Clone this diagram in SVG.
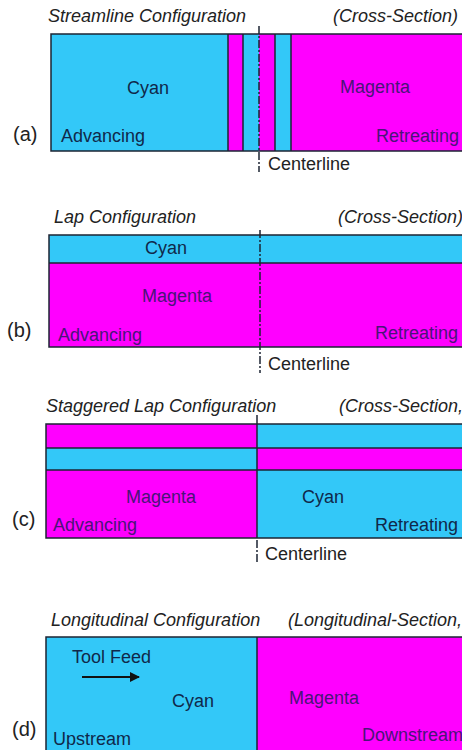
<svg xmlns="http://www.w3.org/2000/svg" width="462" height="750" viewBox="0 0 462 750">
<defs>
<style>
text{font-family:"Liberation Sans",Arial,sans-serif;font-size:18px}
.t{font-style:italic;fill:#222}
.k{fill:#222}
.lab{font-size:20px;fill:#222}
.oc{fill:#10284a}
.om{fill:#4a1478}
.c{fill:#33c8f8}
.m{fill:#ff00ff}
.b{fill:none;stroke:#1c2433;stroke-width:1.5}
.cl{fill:none;stroke:#1c2433;stroke-width:1.5;stroke-dasharray:8 2 2 2}
.sl{fill:none;stroke:#1c2433;stroke-width:1.5}
</style>
<marker id="ah" viewBox="0 0 10 10" refX="9" refY="5" markerWidth="10" markerHeight="10" markerUnits="userSpaceOnUse" orient="auto">
<path d="M0,0 L10,5 L0,10 z" fill="#111"/>
</marker>
</defs>

<g id="panel-a">
<text class="t" x="48" y="22">Streamline Configuration</text>
<text class="t" x="333" y="22">(Cross-Section)</text>
<rect class="c" x="51" y="34" width="177" height="117"/>
<rect class="m" x="228" y="34" width="15" height="117"/>
<rect class="c" x="243" y="34" width="16" height="117"/>
<rect class="m" x="259" y="34" width="16" height="117"/>
<rect class="c" x="275" y="34" width="16" height="117"/>
<rect class="m" x="291" y="34" width="180" height="117"/>
<path class="b" d="M471,34 H51 V151 H471 M228,34 V151 M243,34 V151 M275,34 V151 M291,34 V151"/>
<text class="oc" x="127" y="94">Cyan</text>
<text class="om" x="340" y="93">Magenta</text>
<text class="oc" x="61" y="142">Advancing</text>
<text class="om" x="376" y="142">Retreating</text>
<text class="lab" x="13" y="141">(a)</text>
<text class="k" x="268" y="170">Centerline</text>
</g>

<g id="panel-b">
<text class="t" x="54" y="223">Lap Configuration</text>
<text class="t" x="338" y="223">(Cross-Section)</text>
<rect class="c" x="49" y="235" width="422" height="28"/>
<rect class="m" x="49" y="263" width="422" height="84"/>
<path class="b" d="M471,235 H49 V347 H471 M49,263 H471"/>
<text class="oc" x="145" y="254">Cyan</text>
<text class="om" x="142" y="302">Magenta</text>
<text class="om" x="58" y="341">Advancing</text>
<text class="om" x="375" y="339">Retreating</text>
<text class="lab" x="7" y="337">(b)</text>
<text class="k" x="268" y="370">Centerline</text>
</g>

<g id="panel-c">
<text class="t" x="46" y="412">Staggered Lap Configuration</text>
<text class="t" x="339" y="412">(Cross-Section,</text>
<rect class="m" x="46" y="424" width="211" height="24"/>
<rect class="c" x="46" y="448" width="211" height="22"/>
<rect class="m" x="46" y="470" width="211" height="68"/>
<rect class="c" x="257" y="424" width="214" height="24"/>
<rect class="m" x="257" y="448" width="214" height="22"/>
<rect class="c" x="257" y="470" width="214" height="68"/>
<path class="b" d="M471,424 H46 V538 H471 M46,448 H471 M46,470 H471"/>
<text class="om" x="126" y="503">Magenta</text>
<text class="oc" x="302" y="503">Cyan</text>
<text class="om" x="53" y="531">Advancing</text>
<text class="oc" x="375" y="531">Retreating</text>
<text class="lab" x="12" y="526">(c)</text>
<text class="k" x="265" y="560">Centerline</text>
</g>

<g id="panel-d">
<text class="t" x="51" y="626">Longitudinal Configuration</text>
<text class="t" x="288" y="626">(Longitudinal-Section,</text>
<rect class="c" x="46" y="637" width="211" height="120"/>
<rect class="m" x="257" y="637" width="214" height="120"/>
<path class="b" d="M471,637 H46 V757 M257,637 V757"/>
<text class="oc" x="72" y="663">Tool Feed</text>
<text class="oc" x="172" y="707">Cyan</text>
<text class="om" x="289" y="704">Magenta</text>
<text class="oc" x="53" y="745">Upstream</text>
<text class="om" x="362" y="741">Downstream</text>
<text class="lab" x="12" y="736">(d)</text>
</g>

<g id="connectors">
<path class="cl" d="M259,26 V172"/>
<path class="cl" d="M260,230 V373"/>
<path class="sl" d="M257,415 V538"/>
<path class="cl" d="M257,540 V562"/>
<path d="M82,677 H139" stroke="#111" stroke-width="2" fill="none" marker-end="url(#ah)"/>
</g>
</svg>
